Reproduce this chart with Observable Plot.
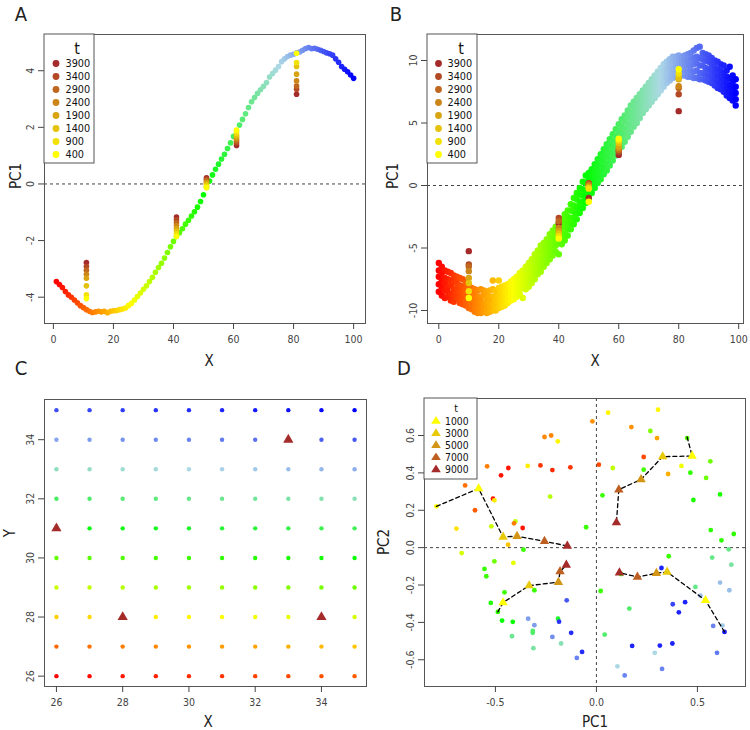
<!DOCTYPE html>
<html><head><meta charset="utf-8">
<script src="https://cdn.jsdelivr.net/npm/d3@7"></script>
<script src="https://cdn.jsdelivr.net/npm/@observablehq/plot@0.6"></script>
<style>
body{margin:0;background:#fff;}
#wrap{position:relative;width:750px;height:730px;font-family:"Liberation Sans Narrow","DejaVu Sans Condensed","Open Sans",sans-serif;color:#222;overflow:hidden;}
.lbl{position:absolute;white-space:nowrap;line-height:1;transform:translate(-50%,-50%);}
.rot{transform:translate(-50%,-50%) rotate(-90deg);}
</style></head><body><div id="wrap"></div>
<script>
// ---------- DATA ----------
// Panel A: PC1 along X = 1..100 (index + 1)
const aPC1 = [-3.45,-3.55,-3.66,-3.80,-3.92,-4.00,-4.10,-4.20,-4.30,-4.37,
-4.44,-4.50,-4.54,-4.52,-4.50,-4.52,-4.50,-4.55,-4.50,-4.48,
-4.47,-4.44,-4.42,-4.38,-4.30,-4.22,-4.10,-3.98,-3.85,-3.72,
-3.60,-3.45,-3.30,-3.12,-2.95,-2.80,-2.62,-2.42,-2.22,-2.03,
-1.86,-1.72,-1.58,-1.42,-1.28,-1.13,-0.98,-0.82,-0.62,-0.38,
-0.12,0.10,0.32,0.52,0.70,0.88,1.05,1.25,1.45,1.68,
1.88,2.08,2.28,2.48,2.70,2.90,3.05,3.20,3.33,3.45,
3.58,3.78,3.90,4.02,4.15,4.32,4.42,4.50,4.55,4.58,
4.63,4.66,4.72,4.78,4.82,4.78,4.79,4.76,4.72,4.68,
4.63,4.60,4.55,4.42,4.30,4.15,4.05,3.96,3.85,3.73];
const stackTs = [3900,3400,2900,2400,1900,1400,900,400];
const aStackX = [11,41,51,61,81];
const aStackPC1 = [
 [-2.78,-2.92,-3.05,-3.19,-3.33,-3.60,-3.92,-4.05],
 [-1.17,-1.27,-1.37,-1.47,-1.57,-1.66,-1.76,-1.86],
 [0.22,0.17,0.12,0.07,0.03,-0.02,-0.08,-0.13],
 [1.36,1.45,1.52,1.58,1.65,1.72,1.80,1.90],
 [3.17,3.35,3.46,3.64,3.88,4.15,4.29,4.62]];

// Panel B: PC1 values at each X = 0..99 (index)
const bPC1 = [
[-6.2,-6.8,-7.3,-7.9,-8.5],[-6.5,-7.0,-7.6,-8.2,-8.8],[-6.8,-7.4,-7.8,-8.4,-9.0],[-6.9,-7.5,-8.1,-8.5,-8.9],[-7.0,-7.6,-8.0,-8.7,-9.2],
[-7.2,-7.7,-8.3,-8.8,-9.3],[-7.3,-7.8,-8.2,-8.6,-9.0],[-7.4,-8.0,-8.5,-9.0,-9.4],[-7.5,-8.1,-8.6,-9.1,-9.5],[-7.8,-8.3,-8.7,-9.2,-9.6],
[-8.0,-8.5,-8.9,-9.4,-9.8],[-8.2,-8.6,-9.1,-9.5,-9.9],[-8.3,-8.8,-9.3,-9.7,-10.1],[-8.4,-8.9,-9.4,-9.8,-10.2],[-8.3,-8.9,-9.3,-9.8,-10.2],
[-8.4,-8.8,-9.4,-9.7,-10.1],[-8.5,-9.0,-9.4,-9.9,-10.2],[-8.4,-8.9,-9.3,-9.7,-10.1],[-7.6,-8.3,-8.9,-9.5,-10.0],[-8.4,-8.8,-9.2,-9.6,-10.0],
[-7.6,-8.2,-8.8,-9.3,-9.8],[-8.1,-8.5,-9.0,-9.4,-9.7],[-8.0,-8.4,-8.8,-9.2,-9.6],[-7.9,-8.3,-8.7,-9.1,-9.4],[-7.7,-8.1,-8.5,-8.9,-9.2],
[-7.5,-7.9,-8.3,-8.7,-9.1],[-7.3,-7.7,-8.1,-8.5,-8.9],[-7.0,-7.5,-7.9,-8.3,-8.7],[-6.8,-7.2,-7.7,-8.2,-9.0],[-6.5,-6.9,-7.4,-7.9,-8.3],
[-6.2,-6.7,-7.1,-7.6,-8.1],[-5.9,-6.4,-6.8,-7.3,-7.8],[-5.5,-6.0,-6.5,-7.0,-7.5],[-5.2,-5.7,-6.2,-6.6,-7.1],[-4.8,-5.3,-5.9,-6.4,-6.9],
[-4.6,-5.1,-5.6,-6.0,-6.5],[-4.3,-4.8,-5.2,-5.7,-6.2],[-3.9,-4.4,-4.9,-5.4,-5.9],[-3.6,-4.1,-4.6,-5.1,-5.6],[-3.3,-3.8,-4.3,-4.8,-5.3],
[-3.0,-3.5,-4.0,-4.6,-5.5],[-2.7,-3.2,-3.7,-4.2,-4.7],[-2.3,-2.8,-3.3,-3.9,-4.4],[-2.0,-2.5,-3.0,-3.5,-4.0],[-1.5,-2.0,-2.6,-3.1,-3.5],
[-1.0,-1.6,-2.1,-2.6,-3.1],[-0.6,-1.1,-1.7,-2.2,-2.7],[-0.2,-0.7,-1.3,-1.8,-2.2],[0.3,-0.3,-0.8,-1.3,-1.8],[0.8,0.2,-0.4,-0.9,-1.4],
[1.0,0.5,0.0,-0.5,-1.0],[1.3,0.8,0.3,-0.2,-0.6],[1.7,1.2,0.7,0.2,-0.2],[2.1,1.6,1.1,0.6,0.2],[2.5,2.0,1.5,1.0,0.5],
[2.9,2.4,1.9,1.4,0.9],[3.3,2.8,2.3,1.7,1.2],[3.7,3.2,2.6,2.1,1.6],[4.1,3.5,3.0,2.5,2.0],[4.5,3.9,3.4,2.9,2.4],
[4.9,4.3,3.8,3.2,2.7],[5.3,4.7,4.2,3.6,3.1],[5.6,5.1,4.5,4.0,3.5],[6.0,5.5,4.9,4.4,3.9],[6.4,5.8,5.3,4.8,4.3],
[6.7,6.2,5.7,5.2,4.7],[7.0,6.5,6.0,5.5,5.0],[7.3,6.8,6.4,5.9,5.4],[7.6,7.1,6.7,6.2,5.8],[7.9,7.4,7.0,6.5,6.1],
[8.2,7.7,7.3,6.8,6.4],[8.5,8.0,7.6,7.1,6.7],[8.8,8.3,7.9,7.4,7.0],[9.1,8.7,8.2,7.7,7.3],[9.4,8.9,8.5,8.0,7.6],
[9.7,9.2,8.8,8.3,7.9],[9.9,9.4,9.0,8.6,8.2],[10.1,9.7,9.3,8.8,8.4],[10.3,9.9,9.4,9.0,8.6],[10.3,9.9,9.5,9.1,8.7],
[10.4,10.0,9.6,9.2,8.8],[10.3,9.9,9.5,9.1,8.8],[10.4,10.0,9.6,9.2,8.8],[10.5,10.0,9.6,9.1,8.7],[10.6,10.1,9.6,9.2,8.7],
[10.8,10.2,9.7,9.1,8.6],[11.0,10.3,9.8,9.2,8.6],[11.1,10.2,9.6,9.0,8.5],[10.6,10.1,9.6,9.0,8.5],[10.5,10.0,9.4,8.9,8.4],
[10.4,9.9,9.3,8.8,8.3],[10.2,9.7,9.2,8.7,8.2],[10.0,9.5,9.0,8.5,8.0],[9.9,9.3,8.8,8.3,7.8],[9.7,9.2,8.7,8.2,7.7],
[9.6,9.0,8.5,8.0,7.5],[9.2,8.7,8.2,7.7,7.2],[9.5,8.6,8.0,7.5,7.0],[8.8,8.3,7.8,7.3,6.8],[8.5,7.9,7.4,6.9,6.4]];
const bStackX = [10,40,50,60,80];
const bStackPC1 = [
 [-5.25,-6.32,-6.48,-6.85,-7.4,-7.8,-8.45,-9.0],
 [-3.04,-2.6,-2.85,-3.4,-3.65,-3.85,-4.05,-4.25],
 [-1.0,0.18,0.08,0.0,-0.1,-0.18,-0.25,-1.3],
 [2.45,2.7,2.8,2.95,3.1,3.4,3.6,3.75],
 [5.95,7.3,7.8,7.95,8.5,8.6,8.95,9.3]];

// Panel C: grid coordinates and marked cells
const cX = [26,27,28,29,30,31,32,33,34,35];
const cY = [26,27,28,29,30,31,32,33,34,35];
const cTriX = [26,28,33,34];
const cTriY = [31,28,34,28];

// Panel D: scatter (PC1, PC2, colour position 1..100)
const dPC1 = [0.058,0.305,-0.02,0.173,0.267,0.30,0.449,-0.257,-0.224,-0.191,
-0.541,-0.436,-0.472,-0.340,-0.277,-0.218,-0.129,0.012,0.081,0.234,
0.234,0.421,0.355,0.465,0.564,0.543,0.48,0.612,0.03,-0.229,
-0.65,-0.601,-0.512,-0.505,-0.693,-0.52,-0.401,-0.408,-0.365,-0.051,
-0.437,-0.361,-0.667,-0.505,-0.411,-0.554,-0.545,-0.455,-0.523,-0.467,
-0.414,-0.307,-0.338,-0.307,-0.315,-0.315,-0.418,-0.312,-0.218,-0.19,
-0.185,-0.175,-0.147,-0.125,-0.071,-0.097,0.021,0.041,0.163,0.358,
0.322,0.177,0.314,0.376,0.378,0.408,0.439,0.289,0.104,0.14,
0.325,0.49,0.515,0.578,0.624,0.597,0.612,0.658,0.668,0.655,
0.573,0.566,0.619,0.68,-0.792,-0.488,0.634,0.122];
const dPC2 = [0.722,0.738,0.676,0.645,0.624,0.586,0.586,0.592,0.60,0.569,
0.435,0.426,0.387,0.437,0.44,0.415,0.43,0.444,0.426,0.485,
0.417,0.437,0.394,0.401,0.462,0.373,0.255,0.285,0.28,0.273,
0.333,0.20,0.262,0.253,0.102,0.114,0.141,0.13,0.105,0.109,
0.016,-0.011,-0.029,-0.073,-0.082,-0.114,-0.153,-0.239,-0.296,-0.39,
-0.397,-0.228,-0.38,-0.415,-0.446,-0.456,-0.474,-0.538,-0.478,-0.38,
-0.396,-0.513,-0.282,-0.456,-0.558,-0.59,-0.232,-0.465,-0.326,-0.046,
-0.109,-0.526,-0.524,-0.513,-0.303,-0.346,-0.292,-0.563,-0.635,-0.684,
-0.649,-0.21,-0.257,-0.419,-0.417,-0.563,-0.187,-0.228,-0.091,-0.009,
-0.053,0.094,0.039,0.073,0.221,-0.344,-0.451,-0.141];
const dCol = [25,25,15,15,38,17,42,14,14,25,
13,3,3,24,6,5,6,8,32,8,
44,27,18,46,40,40,48,48,45,33,
12,10,3,24,23,31,32,13,3,45,
20,45,30,40,28,45,45,45,47,50,
50,45,82,82,62,62,66,68,84,55,
94,70,90,95,95,85,45,62,62,45,
96,96,96,96,92,96,96,75,75,85,
85,65,78,85,77,86,78,78,68,65,
65,46,46,46,26,46,97,45];
const dTs = [1000,3000,5000,7000,9000];
const dStartPC1 = [-0.792,0.449,-0.488,0.634];
const dStartPC2 = [0.221,0.592,-0.344,-0.451];
const dTriPC1 = [[-0.583,-0.462,-0.393,-0.257,-0.144],[0.474,0.328,0.221,0.111,0.099],[-0.462,-0.333,-0.188,-0.18,-0.149],[0.54,0.35,0.297,0.203,0.114]];
const dTriPC2 = [[0.316,0.057,0.061,0.034,0.009],[0.49,0.487,0.365,0.31,0.134],[-0.294,-0.203,-0.185,-0.128,-0.093],[-0.282,-0.13,-0.137,-0.157,-0.134]];

// ---------- STYLE ----------
const FONT = '"Liberation Sans Narrow","DejaVu Sans Condensed","Open Sans",sans-serif';
const rainbowA = {type:"linear", domain:[1,25.75,50.5,75.25,100], range:["#FF0000","#FFFF00","#00FF00","#ADD8E6","#0000FF"], interpolate:"rgb"};
const rainbowB = {type:"linear", domain:[0,24.75,49.5,74.25,99], range:["#FF0000","#FFFF00","#00FF00","#ADD8E6","#0000FF"], interpolate:"rgb"};
const tInterp = d3.interpolateRgb("#FFFF00","#A52A2A");
const tCol8 = stackTs.map((t,i)=>tInterp((7-i)/7));
const tCol5 = dTs.map((t,i)=>tInterp(i/4));
const wrap = document.getElementById("wrap");
const hy = d => String(d);
const f1 = d => d.toFixed(1);

function panel(o){
  const svg = Plot.plot({
    width:o.w, height:o.h, marginTop:o.mt, marginRight:o.mr, marginBottom:o.mb, marginLeft:o.ml,
    x:{domain:o.xd}, y:{domain:o.yd}, color:o.color,
    style:{fontFamily:FONT, fontSize:"10.5px", background:"transparent", color:"#444", overflow:"visible"},
    marks:[
      ...o.marks,
      Plot.frame({stroke:"#555"}),
      Plot.axisX({ticks:o.xt, tickFormat:o.xf||hy, tickSize:6, tickPadding:6, label:null}),
      Plot.axisY({ticks:o.yt, tickFormat:o.yf||hy, tickSize:6, tickPadding:5, tickRotate:-90, label:null})
    ]
  });
  svg.style.position="absolute"; svg.style.left=o.left+"px"; svg.style.top=o.top+"px";
  wrap.appendChild(svg);
  return svg;
}
function legend(svg, o){
  const g = d3.select(svg).append("g").attr("font-family",FONT).attr("fill","#111");
  g.append("rect").attr("x",o.x).attr("y",o.y).attr("width",o.w).attr("height",o.h).attr("fill","white").attr("stroke","#555");
  g.append("text").attr("x",o.tx).attr("y",o.ty).attr("text-anchor","middle").attr("dominant-baseline","central").attr("font-size",o.tfs).text("t");
  o.labels.forEach((lab,i)=>{
    const yy = o.ry + i*o.step;
    if(o.tri){
      const s=4.4; g.append("path").attr("d",`M${o.sx},${yy-s}L${o.sx+s*1.1},${yy+s*0.75}L${o.sx-s*1.1},${yy+s*0.75}Z`).attr("fill",o.colors[i]);
    } else g.append("circle").attr("cx",o.sx).attr("cy",yy).attr("r",3.4).attr("fill",o.colors[i]);
    g.append("text").attr("x",o.lx).attr("y",yy).attr("text-anchor","start").attr("dominant-baseline","central").attr("font-size",o.fs).text(lab);
  });
}
function label(txt,x,y,fs,rot){
  const d=document.createElement("div"); d.className="lbl"+(rot?" rot":""); d.textContent=txt;
  d.style.left=x+"px"; d.style.top=y+"px"; d.style.fontSize=fs+"px"; wrap.appendChild(d);
}

// ---------- PANEL A ----------
const aData = aPC1.map((v,i)=>({x:i+1, y:v}));
const aStack = [];
aStackX.forEach((x,j)=>stackTs.forEach((t,i)=>aStack.push({x, y:aStackPC1[j][i], t})));
const svgA = panel({left:0, top:0, w:375, h:365, mt:34, mr:10, mb:42, ml:44,
  xd:[-2.96,103.96], yd:[-4.93,5.28], xt:[0,20,40,60,80,100], yt:[-4,-2,0,2,4], color:rainbowA,
  marks:[
    Plot.ruleY([0],{stroke:"#444", strokeDasharray:"3,3"}),
    Plot.dot(aData,{x:"x", y:"y", fill:"x", r:2.8}),
    ...stackTs.map((t,i)=>Plot.dot(aStack.filter(d=>d.t===t),{x:"x", y:"y", r:2.8, fill:tCol8[i]}))
  ]});
legend(svgA,{x:44,y:34,w:50,h:129,tx:77,ty:48,tfs:16,sx:56,lx:65.5,ry:63.5,step:13,fs:10.8,labels:stackTs,colors:tCol8});

// ---------- PANEL B ----------
const bData = [];
bPC1.forEach((vals,x)=>vals.forEach(v=>bData.push({x, y:v})));
const bStack = [];
bStackX.forEach((x,j)=>stackTs.forEach((t,i)=>bStack.push({x, y:bStackPC1[j][i], t})));
const svgB = panel({left:375, top:0, w:375, h:365, mt:34, mr:7, mb:42, ml:52,
  xd:[-3.77,101.6], yd:[-11.04,12.08], xt:[0,20,40,60,80,100], yt:[-10,-5,0,5,10], color:rainbowB,
  marks:[
    Plot.ruleY([0],{stroke:"#444", strokeDasharray:"3,3"}),
    Plot.dot(bData,{x:"x", y:"y", fill:"x", r:3.2}),
    ...stackTs.map((t,i)=>Plot.dot(bStack.filter(d=>d.t===t),{x:"x", y:"y", r:3.2, fill:tCol8[i]}))
  ]});
legend(svgB,{x:52,y:34,w:50,h:129,tx:86,ty:48,tfs:16,sx:63.5,lx:72.5,ry:63.5,step:13,fs:10.8,labels:stackTs,colors:tCol8});

// ---------- PANEL C ----------
const cData = [];
cY.forEach((y,j)=>cX.forEach((x,i)=>cData.push({x, y, k:j*cX.length+i+1})));
const cTri = cTriX.map((x,i)=>({x, y:cTriY[i]}));
const svgC = panel({left:0, top:365, w:375, h:365, mt:34, mr:9, mb:44, ml:44,
  xd:[25.64,35.36], yd:[25.65,35.36], xt:[26,28,30,32,34], yt:[26,28,30,32,34], color:rainbowA,
  marks:[
    Plot.dot(cData,{x:"x", y:"y", fill:"k", r:2.2}),
    Plot.dot(cTri,{x:"x", y:"y", symbol:"triangle", r:3.8, fill:"#A52A2A"})
  ]});

// ---------- PANEL D ----------
const dData = dPC1.map((x,i)=>({x, y:dPC2[i], c:dCol[i]}));
const dPaths = [], dTri = [];
dStartPC1.forEach((x0,p)=>{
  dPaths.push({p, x:x0, y:dStartPC2[p]});
  dTs.forEach((t,i)=>{ const q={p, t, x:dTriPC1[p][i], y:dTriPC2[p][i]}; dPaths.push(q); dTri.push(q); });
});
const svgD = panel({left:375, top:365, w:375, h:365, mt:33, mr:5, mb:44, ml:49,
  xd:[-0.851,0.738], yd:[-0.743,0.798], xt:[-0.5,0,0.5], yt:[-0.6,-0.4,-0.2,0,0.2,0.4,0.6], xf:f1, yf:f1, color:rainbowA,
  marks:[
    Plot.ruleY([0],{stroke:"#444", strokeDasharray:"3,3"}),
    Plot.ruleX([0],{stroke:"#444", strokeDasharray:"3,3"}),
    Plot.dot(dData,{x:"x", y:"y", fill:"c", r:2.4}),
    Plot.line(dPaths,{x:"x", y:"y", z:"p", stroke:"#000", strokeWidth:1.3, strokeDasharray:"4,3"}),
    ...dTs.map((t,i)=>Plot.dot(dTri.filter(d=>d.t===t),{x:"x", y:"y", symbol:"triangle", r:3.5, fill:tCol5[i]}))
  ]});
legend(svgD,{x:49,y:33,w:53,h:81,tx:81,ty:42.5,tfs:10.5,sx:61,lx:70,ry:55.5,step:12.1,fs:10.3,labels:dTs,colors:tCol5,tri:true});

// ---------- TEXT ----------
label("A",21,14,20); label("B",396,14,20); label("C",21,368,20); label("D",404,368,20);
label("PC1",16,176,15,true); label("X",209,361,15);
label("PC1",393,176,15,true); label("X",595,361,15);
label("Y",10,533,15,true); label("X",208,722,15);
label("PC2",384,542,15,true); label("PC1",595,722,15);
</script></body></html>
